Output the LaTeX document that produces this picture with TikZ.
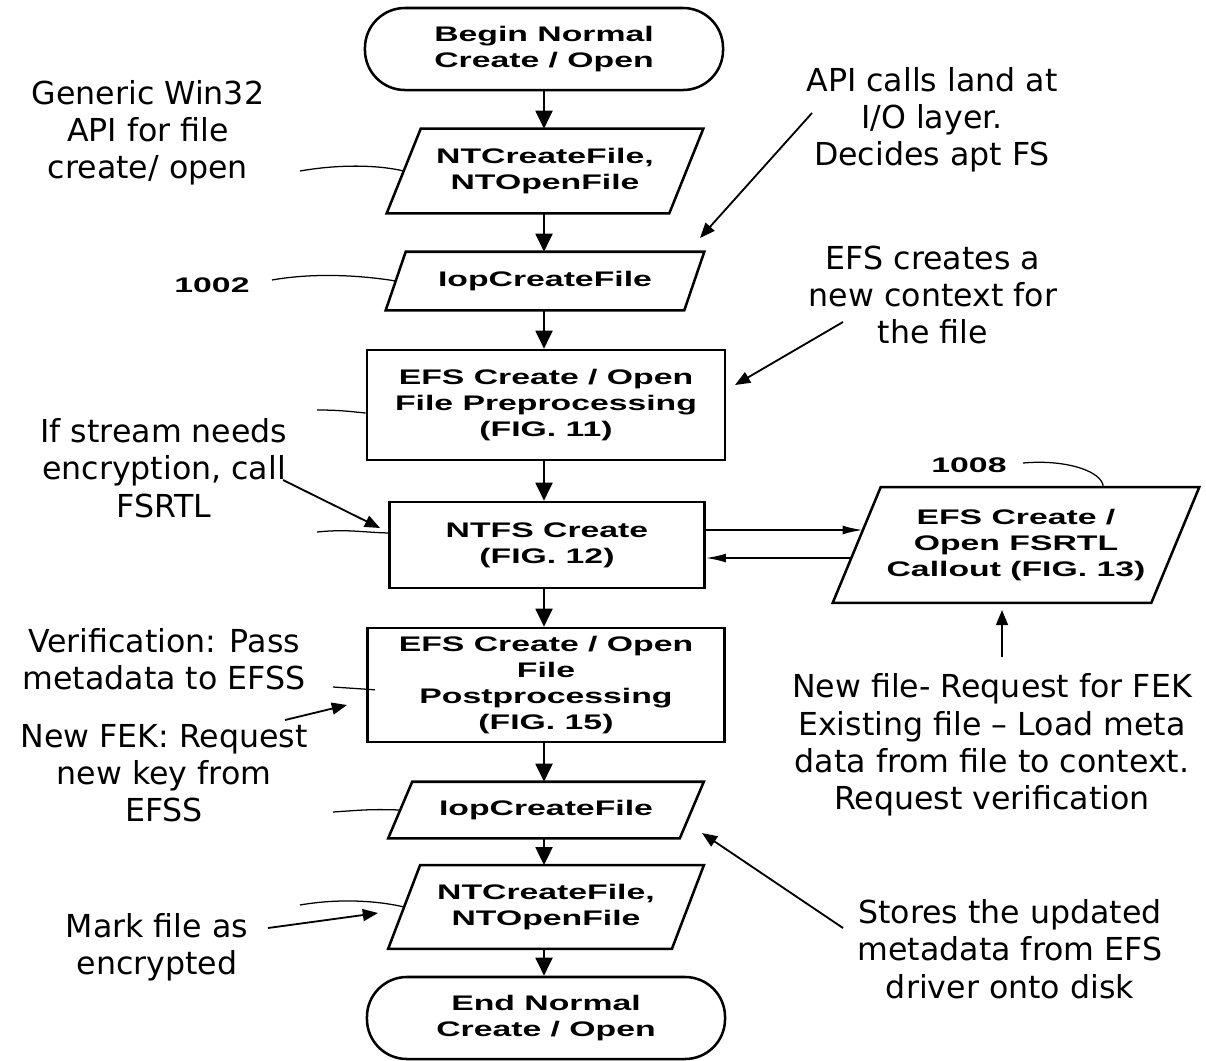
\documentclass[tikz,border=0pt]{standalone}
\usepackage{fontspec}
\setmainfont{DejaVu Sans}
\newfontfamily\boxfont[FakeStretch=1.6]{Liberation Sans}
\usetikzlibrary{arrows.meta}
\newcommand{\boxtxt}{\boxfont\bfseries\fontsize{15}{18.5}\selectfont}
\newcommand{\notetxt}{\fontsize{22.5}{26.5}\selectfont}
% slanted outline round a named node: #1 node, #2 half of the slant
\newcommand{\paraline}[2]{\draw[line width=1.8pt, line join=miter]
  ([xshift=-#2]#1.south west) -- ([xshift=-#2]#1.south east) --
  ([xshift=#2]#1.north east) -- ([xshift=#2]#1.north west) -- cycle;}

\begin{document}
\begin{tikzpicture}[x=0.025cm,y=-0.025cm,
  box/.style={draw, line width=1.8pt, align=center, font=\boxtxt, inner sep=0pt},
  term/.style={box, rounded corners=1cm, minimum width=8.95cm, minimum height=2.05cm},
  proc/.style={box, rectangle},
  para/.style={box, draw=none},
  note/.style={align=center, font=\notetxt, inner sep=0pt},
  num/.style={font=\boxtxt, inner sep=0pt},
  flow/.style={line width=1.8pt, -{Triangle[length=0.45cm,width=0.42cm]}},
  cross/.style={line width=1.2pt, -{Latex[length=0.5cm,width=0.22cm]}},
  pointer/.style={line width=1.3pt, -{Triangle[length=0.38cm,width=0.3cm]}},
  lead/.style={line width=0.9pt}]
\useasboundingbox (0,0) rectangle (1206,1061);

% main column
\node[term] (start) at (544,49) {Begin Normal\\Create / Open};
\node[para, minimum width=7.0cm, minimum height=2.05cm] (nt1) at (545,171) {NTCreateFile,\\NTOpenFile};
\node[para, minimum width=7.4cm, minimum height=1.4cm] (iop1) at (545,281) {IopCreateFile};
\node[proc, minimum width=8.95cm, minimum height=2.75cm] (pre) at (546,405) {EFS Create / Open\\File Preprocessing\\(FIG. 11)};
\node[proc, minimum width=7.875cm, minimum height=2.15cm] (ntfs) at (547,545) {NTFS Create\\(FIG. 12)};
\node[proc, minimum width=8.93cm, minimum height=2.85cm] (post) at (546,685) {EFS Create / Open\\File\\Postprocessing\\(FIG. 15)};
\node[para, minimum width=7.225cm, minimum height=1.35cm] (iop2) at (546,810) {IopCreateFile};
\node[para, minimum width=7.03cm, minimum height=2.03cm] (nt2) at (546,907) {NTCreateFile,\\NTOpenFile};
\node[term] (finish) at (546,1018) {End Normal\\Create / Open};
\node[para, minimum width=7.9cm, minimum height=2.83cm] (fsrtl) at (1016,545) {EFS Create /\\Open FSRTL\\Callout (FIG. 13)};
\paraline{nt1}{0.425cm}
\paraline{iop1}{0.25cm}
\paraline{iop2}{0.3cm}
\paraline{nt2}{0.4cm}
\paraline{fsrtl}{0.6cm}

\foreach \a/\b in {start/nt1, nt1/iop1, iop1/pre, pre/ntfs, ntfs/post, post/iop2, iop2/nt2, nt2/finish}
  \draw[flow] (\a.south -| start) -- (\b.north -| start);
\coordinate (fsrtl-in) at ([xshift=0.15cm,yshift=0.375cm]fsrtl.west);
\coordinate (fsrtl-out) at ([xshift=-0.14cm,yshift=-0.325cm]fsrtl.west);
\draw[cross] (ntfs.east |- fsrtl-in) -- (fsrtl-in);
\draw[cross] (fsrtl-out) -- (ntfs.east |- fsrtl-out);

% notes
\node[note] (gen) at (148,133) {Generic Win32\\API for file\\create/ open};
\node[num] (n1002) at (212,285) {1002};
\node[note] (api) at (932,120) {API calls land at\\I/O layer.\\Decides apt FS};
\node[note] (ctx) at (933,295) {EFS creates a\\new context for\\the file};
\node[note] (ifs) at (164,468) {If stream needs\\encryption, call\\FSRTL};
\node[note] (ver) at (164,659) {Verification: Pass\\metadata to EFSS};
\node[note] (fek) at (164,773) {New FEK: Request\\new key from\\EFSS};
\node[note] (mark) at (157,947) {Mark file as\\encrypted};
\node[num] (n1008) at (969,465) {1008};
\node[note] (newf) at (992,745) {New file- Request for FEK\\Existing file – Load meta\\data from file to context.\\Request verification};
\node[note] (store) at (1010,949) {Stores the updated\\metadata from EFS\\driver onto disk};

% leader lines
\coordinate (gen-l) at (300,171);
\coordinate (n1002-l) at (272,280);
\coordinate (pre-l) at (317,410);
\coordinate (ntfs-l) at (317,532);
\coordinate (post-l) at (333,687);
\coordinate (iop2-l) at (333,812);
\coordinate (nt2-l) at (300,905);
\coordinate (n1008-l) at (1023,463);
\draw[lead] (gen-l) .. controls +(40,-7) and +(-25,-6) .. (nt1.west);
\draw[lead] (n1002-l) .. controls +(45,-8) and +(-30,-5) .. (iop1.west);
\draw[lead] (pre-l) .. controls +(20,0) and +(-20,-2) .. ([yshift=-0.2cm]pre.west);
\draw[lead] (ntfs-l) .. controls +(30,-3) and +(-30,-1) .. ([yshift=0.3cm]ntfs.west);
\draw[lead] (post-l) -- ([xshift=0.22cm,yshift=-0.12cm]post.west);
\draw[lead] (iop2-l) .. controls +(30,-2) and +(-30,-1) .. (iop2.west);
\draw[lead] (nt2-l) .. controls +(40,-7) and +(-25,-6) .. (nt2.west);
\draw[lead] (n1008-l) .. controls +(45,-4) and +(0,-15) .. ([xshift=2.18cm]fsrtl.north);

% pointers
\coordinate (api-a) at (812,113);   \coordinate (api-b) at (700,238);
\coordinate (ctx-a) at (843,322);   \coordinate (ctx-b) at (735,385);
\coordinate (ifs-a) at (283,480);   \coordinate (ifs-b) at (380,528);
\coordinate (fek-a) at (285,720);   \coordinate (fek-b) at (347,705);
\coordinate (mark-a) at (268,928);  \coordinate (mark-b) at (378,913);
\coordinate (store-a) at (843,928); \coordinate (store-b) at (702,833);
\coordinate (newf-a) at (1002,657); \coordinate (newf-b) at (1002,610);
\foreach \p in {api, ctx, ifs, fek, mark, store, newf}
  \draw[pointer] (\p-a) -- (\p-b);
\end{tikzpicture}
\end{document}
